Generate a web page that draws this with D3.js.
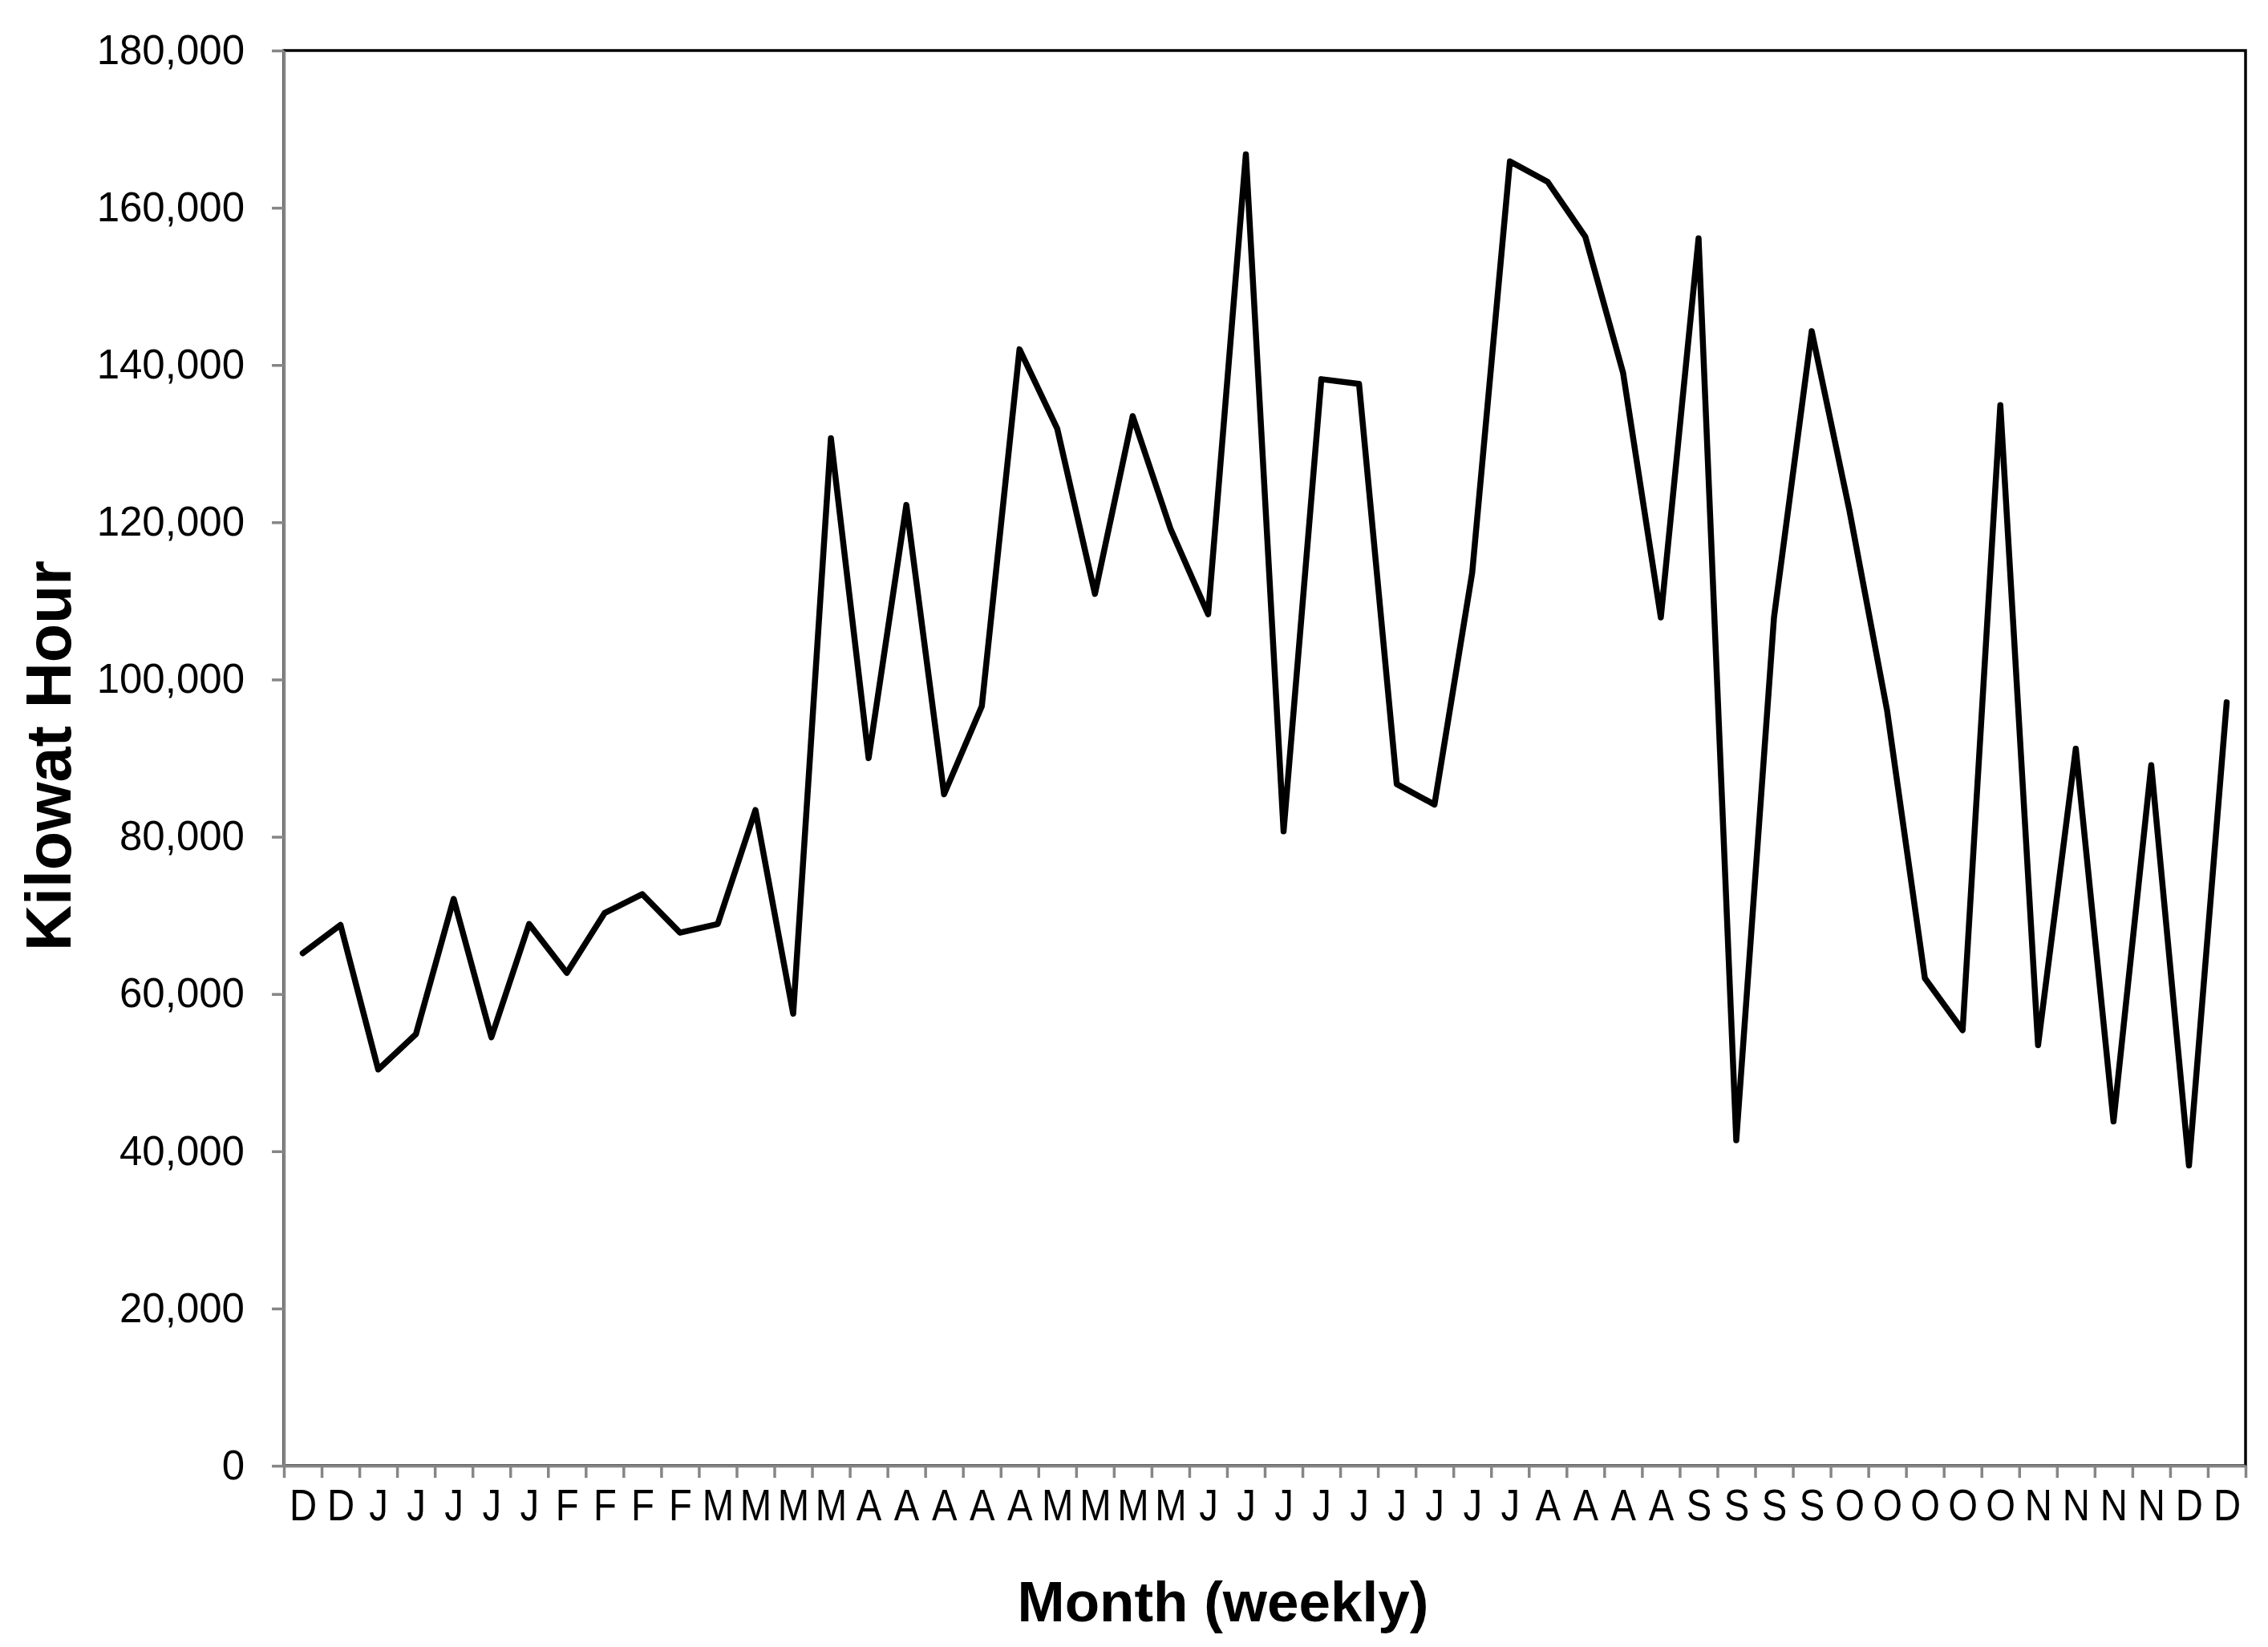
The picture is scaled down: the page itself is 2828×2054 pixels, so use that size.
<!DOCTYPE html>
<html>
<head>
<meta charset="utf-8">
<title>Kilowat Hour by week</title>
<script src="https://cdn.jsdelivr.net/npm/d3@7"></script>
<style>
    html, body { margin: 0; padding: 0; background: #fff; }
    svg { display: block; font-family: "Liberation Sans", Arial, sans-serif; }
</style>
</head>
<body>
<div id="chart"></div>
<script>
"use strict";

// Week labels (first letter of month), one per data point
const months = [
    "D", "D",
    "J", "J", "J", "J", "J",
    "F", "F", "F", "F",
    "M", "M", "M", "M",
    "A", "A", "A", "A", "A",
    "M", "M", "M", "M",
    "J", "J", "J", "J", "J", "J", "J", "J", "J",
    "A", "A", "A", "A",
    "S", "S", "S", "S",
    "O", "O", "O", "O", "O",
    "N", "N", "N", "N",
    "D", "D"
];

// Weekly consumption, kWh
const kwh = [
    65200, 68800, 50400, 54900, 72100, 54500, 68900, 62700, 70300, 72700,
    67800, 68900, 83400, 57500, 130700, 90000, 122200, 85400, 96600, 142000,
    131900, 110900, 133500, 119200, 108300, 166800, 80700, 138200, 137600, 86700,
    84100, 113600, 165900, 163300, 156300, 139000, 107900, 156100, 41400, 107900,
    144300, 121500, 96000, 62000, 55400, 134900, 53500, 91200, 43800, 89100,
    38200, 97100
];

const yTicks = [0, 20000, 40000, 60000, 80000, 100000, 120000, 140000, 160000, 180000];

const xTitle = "Month (weekly)";
const yTitle = "Kilowat Hour";


/*
 * ============================================================================
 * Chart
 * ============================================================================
 */

const WIDTH = 2828;
const HEIGHT = 2054;
const LEFT = 354, RIGHT = 2800, TOP = 63, BOTTOM = 1828;
const AXIS = "#868686";

const svg = d3.select("#chart")
  .append("svg")
    .attr("width", WIDTH)
    .attr("height", HEIGHT);

const x = d3.scaleLinear()
    .domain([0, months.length])
    .range([LEFT, RIGHT]);

const y = d3.scaleLinear()
    .domain([0, 180000])
    .range([BOTTOM, TOP]);

// plot area border (top and right show; left/bottom are under the axes)
svg.append("rect")
    .attr("x", LEFT)
    .attr("y", TOP)
    .attr("width", RIGHT - LEFT)
    .attr("height", BOTTOM - TOP)
    .attr("fill", "none")
    .attr("stroke", "#000")
    .attr("stroke-width", 3.5);

// y axis
const yaxis = svg.append("g")
    .attr("transform", `translate(${LEFT},0)`)
    .call(d3.axisLeft(y)
        .tickValues(yTicks)
        .tickFormat(d3.format(","))
        .tickSize(15)
        .tickSizeOuter(0)
        .tickPadding(34));

yaxis.selectAll("path, line")
    .attr("stroke", AXIS)
    .attr("stroke-width", 3.5);
yaxis.selectAll("text")
    .attr("fill", "#000")
    .style("font-size", "51px");

// x axis: tick marks sit between weeks
const xaxis = svg.append("g")
    .attr("transform", `translate(0,${BOTTOM})`)
    .call(d3.axisBottom(x)
        .tickValues(d3.range(months.length + 1))
        .tickFormat("")
        .tickSize(15)
        .tickSizeOuter(0));

xaxis.selectAll("path, line")
    .attr("stroke", AXIS)
    .attr("stroke-width", 3.5);

// x labels centred on each week
const xlabels = svg.append("g")
    .attr("transform", `translate(0,${BOTTOM})`)
    .call(d3.axisBottom(x)
        .tickValues(d3.range(months.length).map(i => i + 0.5))
        .tickFormat(d => months[Math.floor(d)])
        .tickSize(0)
        .tickPadding(29));

xlabels.select(".domain").remove();
xlabels.selectAll("text")
    .attr("fill", "#000")
    .attr("transform", "scale(0.86,1)")
    .style("font-size", "55px");

// series line
const line = d3.line()
    .x((d, i) => x(i + 0.5))
    .y(d => y(d));

svg.append("path")
    .datum(kwh)
    .attr("fill", "none")
    .attr("stroke", "#000")
    .attr("stroke-width", 7.5)
    .attr("stroke-linejoin", "round")
    .attr("stroke-linecap", "round")
    .attr("d", line);

// axis titles
svg.append("text")
    .attr("x", 1525)
    .attr("y", 2022)
    .attr("text-anchor", "middle")
    .style("font-size", "71px")
    .style("font-weight", "bold")
    .text(xTitle);

svg.append("text")
    .attr("transform", `translate(88,${(TOP + BOTTOM) / 2 - 3}) rotate(-90)`)
    .attr("text-anchor", "middle")
    .style("font-size", "79px")
    .style("font-weight", "bold")
    .text(yTitle);
</script>
</body>
</html>
